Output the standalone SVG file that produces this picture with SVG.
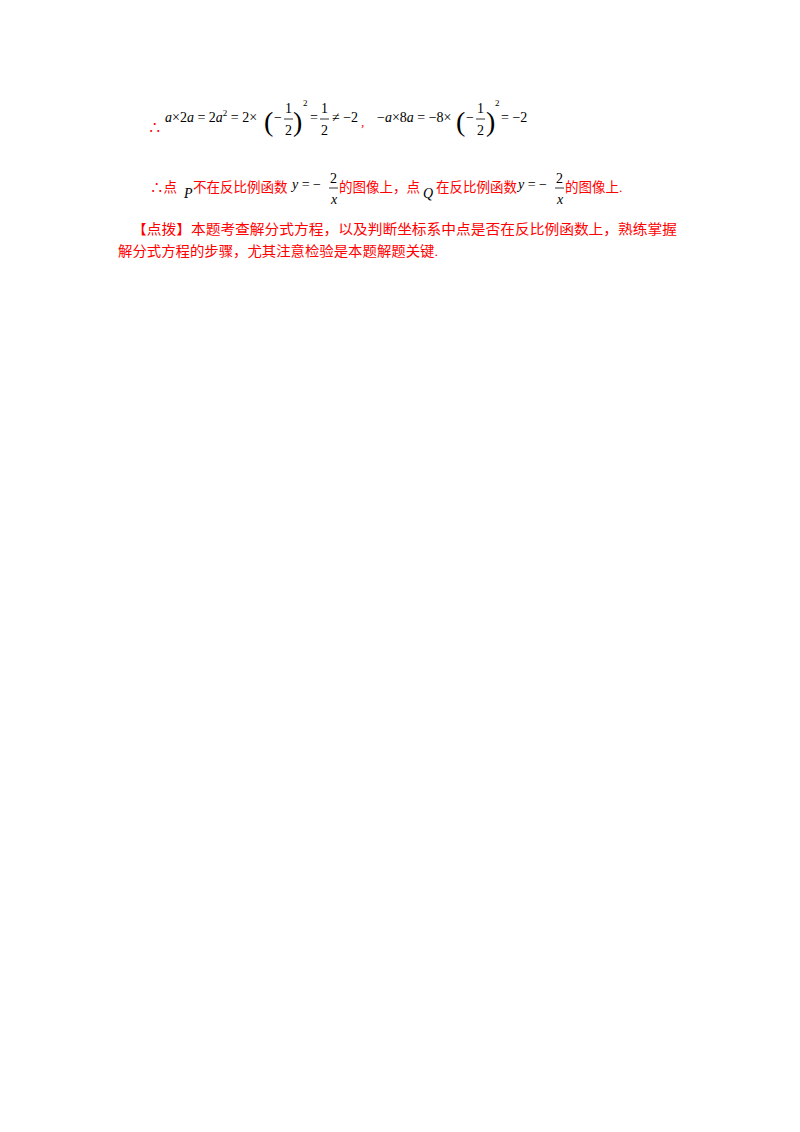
<svg xmlns="http://www.w3.org/2000/svg" width="800" height="1132" viewBox="0 0 800 1132">
<style>
.m{font-family:"Liberation Serif",serif;font-size:14px;fill:#000}
.i{font-style:italic}
.s{font-size:9px}
.r{font-family:"Liberation Serif","Noto Sans CJK SC",serif;font-size:13.5px;fill:#f00}
.p{font-family:"Liberation Serif",serif;font-size:28px;fill:#000;font-weight:100}
line{stroke:#000;stroke-width:0.8}
</style>
<rect width="800" height="1132" fill="#fff"/>
<g id="line1">
<text class="r" x="148" y="132" font-size="16">∴</text>
<text class="m" x="165" y="122"><tspan class="i">a</tspan>×2<tspan class="i">a</tspan> = 2<tspan class="i">a</tspan><tspan class="s" dy="-6">2</tspan><tspan dy="6"> = 2×</tspan></text>
<text class="p" x="264" y="131">(</text>
<text class="m" x="274" y="122">−</text>
<text class="m" x="285" y="113">1</text><line x1="284" y1="119" x2="293" y2="119"/><text class="m" x="285" y="135">2</text>
<text class="p" x="293" y="131">)</text>
<text class="m s" x="303" y="106">2</text>
<text class="m" x="310" y="122">=</text>
<text class="m" x="321" y="113">1</text><line x1="320" y1="119" x2="329" y2="119"/><text class="m" x="321" y="135">2</text>
<text class="m" x="332" y="122">≠ −2</text>
<text class="r" x="361" y="126">,</text>
<text class="m" x="377" y="122">−<tspan class="i">a</tspan>×8<tspan class="i">a</tspan> = −8×</text>
<text class="p" x="456" y="131">(</text>
<text class="m" x="466" y="122">−</text>
<text class="m" x="477" y="113">1</text><line x1="476" y1="119" x2="485" y2="119"/><text class="m" x="477" y="135">2</text>
<text class="p" x="486" y="131">)</text>
<text class="m s" x="495" y="106">2</text>
<text class="m" x="501" y="122">= −2</text>
</g>
<g id="line2">
<text class="r" x="150" y="192">∴点</text>
<text class="m i" x="184" y="198" font-size="12">P</text>
<text class="r" x="193" y="192">不在反比例函数</text>
<text class="m" x="292" y="189"><tspan class="i">y</tspan> = −</text>
<text class="m" x="330" y="183">2</text><line x1="329" y1="188" x2="338" y2="188"/><text class="m i" x="331" y="204">x</text>
<text class="r" x="339" y="192">的图像上，点</text>
<text class="m i" x="423" y="198">Q</text>
<text class="r" x="436" y="192">在反比例函数</text>
<text class="m" x="518" y="189"><tspan class="i">y</tspan> = −</text>
<text class="m" x="556" y="183">2</text><line x1="555" y1="188" x2="564" y2="188"/><text class="m i" x="557" y="204">x</text>
<text class="r" x="565" y="192">的图像上.</text>
</g>
<g id="note">
<text class="r" x="132" y="234" textLength="545" lengthAdjust="spacingAndGlyphs">【点拨】本题考查解分式方程，以及判断坐标系中点是否在反比例函数上，熟练掌握</text>
<text class="r" x="118" y="256" textLength="320" lengthAdjust="spacingAndGlyphs">解分式方程的步骤，尤其注意检验是本题解题关键.</text>
</g>
</svg>
